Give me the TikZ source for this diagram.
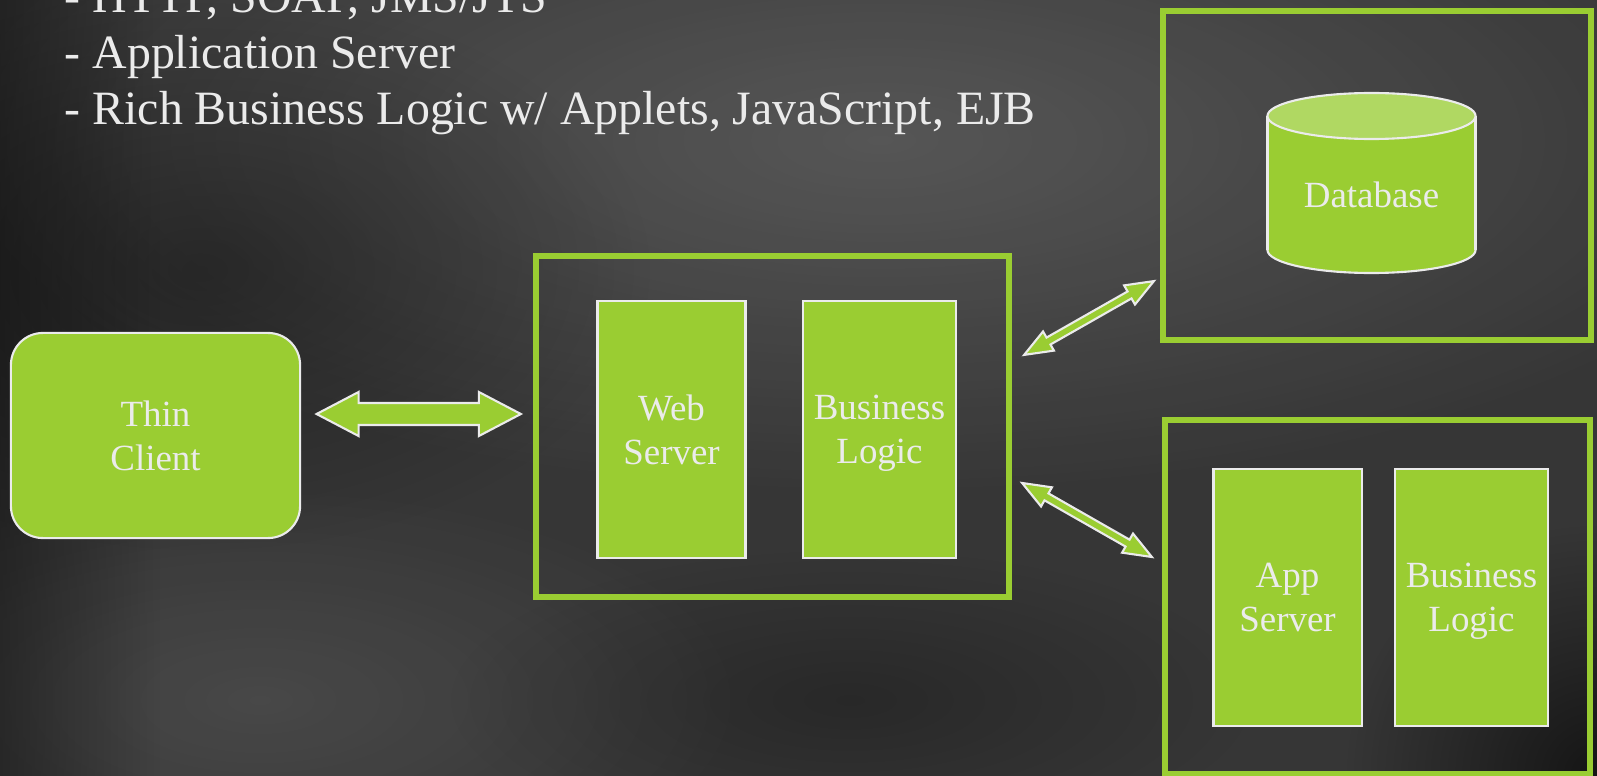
\documentclass[tikz,border=0pt]{standalone}
\usepackage{fontspec}
\setmainfont{Liberation Serif}
\usepackage{xcolor}
\usetikzlibrary{calc,fadings}
\definecolor{leaf}{HTML}{9ACD32}
\definecolor{leaftop}{HTML}{B0D862}
\definecolor{chalk}{HTML}{EBEBEB}
\tikzfading[name=leftedge, left color=transparent!0, right color=transparent!100]
\tikzfading[name=blob, inner color=transparent!0, outer color=transparent!100]

% double block arrow: from, to, shaft half width, head half width, head length
\newcommand{\linkarrow}[5]{%
	\path ($(#1)!#5!(#2)$) coordinate (la) ($(#2)!#5!(#1)$) coordinate (lb);
	\draw[flow] (#1) -- ($(la)!#4!90:(#2)$) -- ($(la)!#3!90:(#2)$)
		-- ($(lb)!#3!-90:(#1)$) -- ($(lb)!#4!-90:(#1)$) -- (#2)
		-- ($(lb)!#4!90:(#1)$) -- ($(lb)!#3!90:(#1)$)
		-- ($(la)!#3!-90:(#2)$) -- ($(la)!#4!-90:(#2)$) -- cycle;}

\begin{document}
\begin{tikzpicture}[x=0.01cm,y=-0.01cm,
	frame/.style={draw=leaf, line width=1.6pt, outer sep=0pt},
	tier/.style={fill=leaf, draw=chalk, line width=0.6pt, outer sep=0pt, inner sep=0pt,
		text=chalk, align=center, text depth=0pt, font=\fontsize{10.5}{12.5}\selectfont},
	flow/.style={fill=leaf, draw=chalk, line width=0.6pt, line join=miter},
	bullet/.style={anchor=base west, text=chalk, inner sep=0pt, font=\fontsize{13.6}{16}\selectfont}]
	\clip (0,0) rectangle (1597,776);
	% background
	\fill[black!79] (0,0) rectangle (1597,776);
	\fill[white, opacity=0.16, path fading=blob] (880,140) ellipse [x radius=9.5cm, y radius=3.6cm];
	\fill[white, opacity=0.09, path fading=blob] (260,700) ellipse [x radius=5cm, y radius=2.2cm];
	\fill[black, opacity=0.35, path fading=blob] (200,270) ellipse [x radius=4.5cm, y radius=2.8cm];
	\fill[black, opacity=0.25, path fading=blob] (850,700) ellipse [x radius=4cm, y radius=1.5cm];
	\fill[black, opacity=0.35, path fading=leftedge] (0,0) rectangle (160,776);
	\fill[black, opacity=0.6, path fading=blob] (1597,776) ellipse [x radius=2.5cm, y radius=2.5cm];

	\node[bullet] (line1) at (64,13) {- HTTP, SOAP, JMS/JTS};
	\node[bullet] (line2) at (64,69) {- Application Server};
	\node[bullet] (line3) at (64,125) {- Rich Business Logic w/ Applets, JavaScript, EJB};

	\node[tier, rounded corners=0.32cm, minimum width=2.89cm, minimum height=2.05cm] (client) at (155.5,435.5) {Thin\\Client};

	\node[frame, minimum width=4.73cm, minimum height=3.41cm] (mid) at (772.5,426.5) {};
	\node[tier, minimum width=1.48cm, minimum height=2.57cm] (web) at (671.5,429.5) {Web\\Server};
	\node[tier, minimum width=1.53cm, minimum height=2.57cm] (logic) at (879.5,429.5) {Business\\Logic};

	\node[frame, minimum width=4.28cm, minimum height=3.29cm] (dbbox) at (1377,175.5) {};
	\fill[leaf, draw=chalk, line width=0.6pt] (1371.5,250) ellipse [x radius=1.04cm, y radius=0.23cm];
	\fill[leaf] (1267.5,116) rectangle (1475.5,250);
	\draw[chalk, line width=0.6pt] (1267.5,116) -- (1267.5,250) (1475.5,116) -- (1475.5,250);
	\filldraw[fill=leaftop, draw=chalk, line width=0.6pt] (1371.5,116) ellipse [x radius=1.04cm, y radius=0.23cm];
	\node[text=chalk, text depth=0pt, font=\fontsize{10.5}{12.5}\selectfont] (db) at (1371.5,195) {Database};

	\node[frame, minimum width=4.25cm, minimum height=3.54cm] (appbox) at (1377.5,597) {};
	\node[tier, minimum width=1.48cm, minimum height=2.56cm] (app) at (1287.5,597.5) {App\\Server};
	\node[tier, minimum width=1.53cm, minimum height=2.56cm] (logic2) at (1471.5,597.5) {Business\\Logic};

	% connectors
	\coordinate (c1) at ($(client.east)+(16.5,-21.5)$);
	\coordinate (c2) at ($(mid.west)+(-15,-12.5)$);
	\coordinate (c3) at ($(mid.north east)+(15,99)$);
	\coordinate (c4) at ($(dbbox.south west)+(-9,-59)$);
	\coordinate (c5) at ($(mid.east)+(13,56.5)$);
	\coordinate (c6) at ($(appbox.west)+(-13,-40)$);
	\linkarrow{c1}{c2}{0.11cm}{0.22cm}{0.42cm}
	\linkarrow{c3}{c4}{0.04cm}{0.11cm}{0.28cm}
	\linkarrow{c5}{c6}{0.04cm}{0.11cm}{0.28cm}
\end{tikzpicture}
\end{document}
